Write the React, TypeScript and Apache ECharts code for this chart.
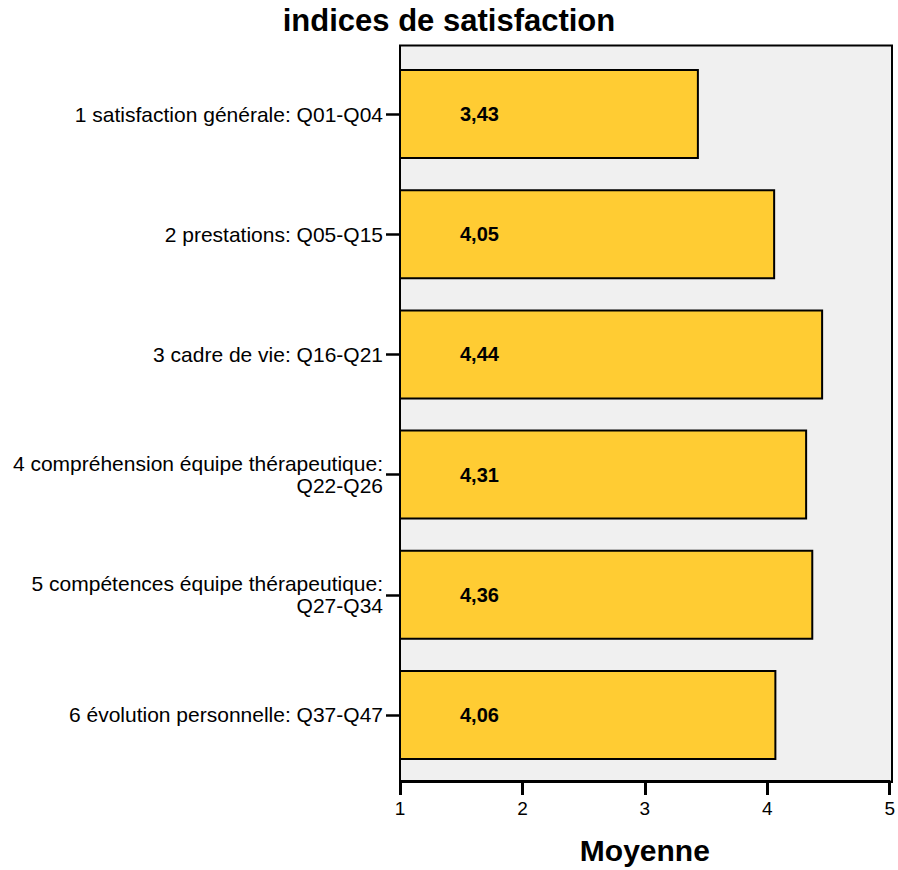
import React, { useEffect, useRef } from "react";
import * as echarts from "echarts";

const titleText = "indices de satisfaction";
const axisName = "Moyenne";
const categories = [
  "1 satisfaction générale: Q01-Q04",
  "2 prestations: Q05-Q15",
  "3 cadre de vie: Q16-Q21",
  "4 compréhension équipe thérapeutique:\nQ22-Q26",
  "5 compétences équipe thérapeutique:\nQ27-Q34",
  "6 évolution personnelle: Q37-Q47",
];
const values = [3.43, 4.05, 4.44, 4.31, 4.36, 4.06];
const xMin = 1;
const xMax = 5;
const xInterval = 1;

const FONT = "'Liberation Sans', Arial, Helvetica, sans-serif";

export default function App() {
  const ref = useRef<HTMLDivElement>(null);
  useEffect(() => {
    if (!ref.current) return;
    const chart = echarts.init(ref.current, undefined, { renderer: "svg" });
    chart.setOption({
      animation: false,
      backgroundColor: "#ffffff",
      textStyle: { fontFamily: FONT },
      title: {
        text: titleText,
        left: "center",
        top: 0,
        textStyle: { fontFamily: FONT, fontSize: 31, fontWeight: "bold", color: "#000" },
      },
      graphic: [
        {
          type: "rect",
          z: 0,
          silent: true,
          shape: { x: 400, y: 45.5, width: 492, height: 736.5 },
          style: { fill: "#f0f0f0", stroke: "#000", lineWidth: 2 },
        },
      ],
      grid: [
        { left: 400, right: 6, top: 54, bottom: 95, containLabel: false },
        { left: 400, right: 6, top: 45.5, bottom: 88, containLabel: false },
      ],
      xAxis: [
        {
          type: "value",
          gridIndex: 0,
          min: xMin,
          max: xMax,
          interval: xInterval,
          show: false,
        },
        {
          type: "value",
          gridIndex: 1,
          min: xMin,
          max: xMax,
          interval: xInterval,
          name: axisName,
          nameLocation: "middle",
          nameGap: 54,
          nameTextStyle: {
            fontFamily: FONT,
            fontSize: 30,
            fontWeight: "bold",
            color: "#000",
            verticalAlign: "top",
          },
          axisLine: { show: true, lineStyle: { color: "#000", width: 2 } },
          axisTick: { show: true, length: 14, lineStyle: { color: "#000", width: 3 } },
          axisLabel: {
            margin: 18,
            fontFamily: FONT,
            fontSize: 19,
            color: "#000",
            formatter: (v: number) => String(v),
          },
          splitLine: { show: false },
        },
      ],
      yAxis: [
        {
          type: "category",
          gridIndex: 0,
          data: categories,
          inverse: true,
          axisLine: { show: true, lineStyle: { color: "#000", width: 2 } },
          axisTick: {
            show: true,
            alignWithLabel: true,
            length: 14,
            lineStyle: { color: "#000", width: 2.5 },
          },
          axisLabel: {
            margin: 17,
            fontFamily: FONT,
            fontSize: 21,
            lineHeight: 22,
            color: "#000",
            align: "right",
          },
          splitLine: { show: false },
        },
        {
          type: "value",
          gridIndex: 1,
          show: false,
          min: 0,
          max: 1,
        },
      ],
      series: [
        {
          type: "bar",
          xAxisIndex: 0,
          yAxisIndex: 0,
          z: 2,
          data: values,
          barWidth: 90,
          itemStyle: { color: "#ffcc33", borderColor: "#000", borderWidth: 2 },
          label: {
            show: true,
            position: [61, "50%"],
            verticalAlign: "middle",
            fontFamily: FONT,
            fontSize: 20,
            fontWeight: "bold",
            color: "#000",
            formatter: (p: any) => p.value.toFixed(2).replace(".", ","),
          },
        },
      ],
    });
    return () => chart.dispose();
  }, []);
  return (
    <div
      ref={ref}
      style={{ position: "fixed", left: 0, top: 0, width: 898, height: 870 }}
    />
  );
}
